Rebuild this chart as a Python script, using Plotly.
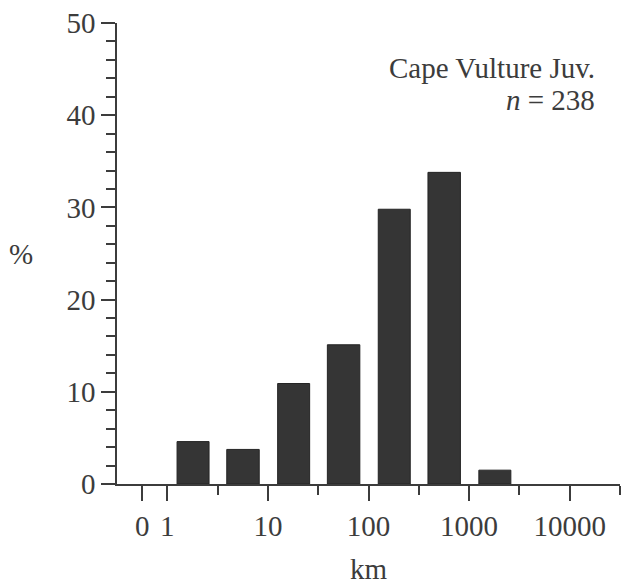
import numpy as np
import plotly.graph_objects as go

# Distance classes (km): lower and upper bounds of each histogram bin
bin_low_km = [1.25, 3.9, 12.5, 39, 125, 390, 1250]
bin_high_km = [2.6, 8.2, 26, 82, 260, 820, 2600]
# Percentage of recoveries in each bin
percent = [4.6, 3.75, 10.9, 15.1, 29.8, 33.8, 1.5]

tick_labels = ["0", "1", "10", "100", "1000", "10000"]
tick_km = [0, 1, 10, 100, 1000, 10000]
minor_km = [10 ** 0.5, 10 ** 1.5, 10 ** 2.5, 10 ** 3.5, 10 ** 4.5]

title_line1 = "Cape Vulture Juv."
title_line2 = "<i>n</i> = 238"

FONT = "Liberation Serif"
INK = "#3c3c3c"

lo = np.log10(bin_low_km)
hi = np.log10(bin_high_km)
centers = (lo + hi) / 2
widths = hi - lo

# "0" is drawn a quarter decade left of 1 on the log scale
tick_pos = [-0.25 if v == 0 else float(np.log10(v)) for v in tick_km]
minor_pos = [float(np.log10(v)) for v in minor_km]

fig = go.Figure()
fig.add_trace(go.Bar(
    x=centers, y=percent, width=widths,
    marker=dict(color="#353535", line=dict(color="#252525", width=1)),
    hoverinfo="y",
))

fig.update_layout(
    width=623, height=585,
    margin=dict(l=117, r=3, t=23, b=94),
    paper_bgcolor="white", plot_bgcolor="white",
    showlegend=False,
    font=dict(family=FONT, size=29, color=INK),
    xaxis=dict(
        range=[-0.5, 4.5], showgrid=False, zeroline=False,
        showline=True, linecolor=INK, linewidth=1.5,
        tickmode="array", tickvals=tick_pos, ticktext=tick_labels,
        ticks="outside", ticklen=15, tickwidth=1.5, tickcolor=INK,
        minor=dict(tickmode="array", tickvals=minor_pos, ticks="outside",
                   ticklen=9, tickwidth=1.5, tickcolor=INK),
        title=dict(text="km", font=dict(family=FONT, size=29, color=INK), standoff=20),
    ),
    yaxis=dict(
        range=[0, 50], showgrid=False, zeroline=False,
        showline=True, linecolor=INK, linewidth=1.5,
        tickmode="linear", tick0=0, dtick=10,
        ticks="outside", ticklen=14, tickwidth=1.5, tickcolor=INK,
        minor=dict(dtick=2, ticks="outside", ticklen=9, tickwidth=1.5, tickcolor=INK),
    ),
    annotations=[
        dict(text="%", xref="paper", yref="paper", x=-0.19, y=0.5,
             xanchor="center", yanchor="middle", showarrow=False,
             font=dict(family=FONT, size=29, color=INK)),
        dict(text=title_line1, xref="paper", yref="paper", x=0.955, y=0.902,
             xanchor="right", yanchor="middle", showarrow=False,
             font=dict(family=FONT, size=29, color=INK)),
        dict(text=title_line2, xref="paper", yref="paper", x=0.955, y=0.832,
             xanchor="right", yanchor="middle", showarrow=False,
             font=dict(family=FONT, size=29, color=INK)),
    ],
)

fig.write_html("out.html")
